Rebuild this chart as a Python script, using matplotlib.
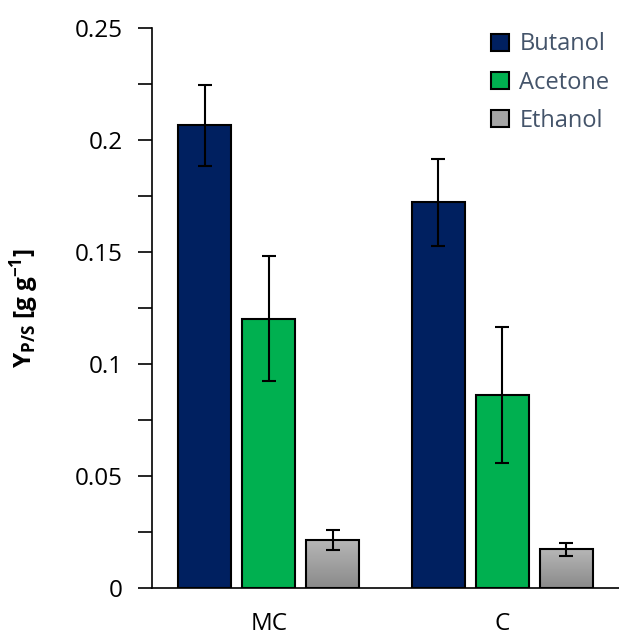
import matplotlib.pyplot as plt
import numpy as np
from matplotlib.colors import LinearSegmentedColormap
from matplotlib.patches import Patch

groups = ['MC', 'C']
solvents = ['Butanol', 'Acetone', 'Ethanol']
butanol = [0.2065, 0.1722]
acetone = [0.1202, 0.0862]
ethanol = [0.0214, 0.0172]
butanol_err = [0.018, 0.0193]
acetone_err = [0.0278, 0.0305]
ethanol_err = [0.0044, 0.0028]

values = [butanol, acetone, ethanol]
errors = [butanol_err, acetone_err, ethanol_err]
colors = ['#002060', '#00B050', '#A6A6A6']
text_col = '#44546A'

plt.rcParams['font.family'] = ['Open Sans', 'DejaVu Sans']
plt.rcParams['mathtext.fontset'] = 'custom'
plt.rcParams['mathtext.rm'] = 'Open Sans'
plt.rcParams['mathtext.bf'] = 'Open Sans:bold'
plt.rcParams['mathtext.it'] = 'Open Sans:italic'

fig = plt.figure(figsize=(6.19, 6.37), dpi=100)
ax = fig.add_axes([152/619, 49/637, 467/619, 560/637])

x = np.arange(len(groups))
step = 0.274
width = 0.226
grey_cmap = LinearSegmentedColormap.from_list('g', ['#8a8a8a', '#b6b6b6'])

for i, (vals, errs) in enumerate(zip(values, errors)):
    pos = x + (i - 1) * step
    bars = ax.bar(pos, vals, width, color=colors[i], edgecolor='black',
                  linewidth=1.5, zorder=2)
    ax.errorbar(pos, vals, yerr=errs, fmt='none', ecolor='black',
                elinewidth=1.5, capsize=5, capthick=1.5, zorder=4)
    if solvents[i] == 'Ethanol':
        # gradient fill like the excel style
        for b in bars:
            bx, by = b.get_x(), b.get_y()
            grad = np.linspace(0, 1, 100).reshape(-1, 1)
            im = ax.imshow(grad, cmap=grey_cmap, aspect='auto', origin='lower',
                           extent=[bx, bx + b.get_width(), by, by + b.get_height()],
                           zorder=2.5)
            im.set_clip_path(b)
            b.set_facecolor('none')
            b.set_zorder(3)

ax.set_xlim(-0.5, 1.5)
ax.set_ylim(0, 0.25)
ax.set_xticks(x)
ax.set_xticklabels(groups)
ax.set_yticks(np.arange(0, 0.2501, 0.05))
ax.set_yticklabels(['0', '0.05', '0.1', '0.15', '0.2', '0.25'])
ax.set_yticks(np.arange(0.025, 0.25, 0.05), minor=True)
ax.tick_params(axis='y', which='both', direction='out', length=10, width=1.2,
               labelsize=17.5, pad=11)
ax.tick_params(axis='x', length=0, labelsize=17.5, pad=17)

ax.spines['top'].set_visible(False)
ax.spines['right'].set_visible(False)
ax.spines['left'].set_linewidth(1.2)
ax.spines['bottom'].set_linewidth(1.2)

ax.set_ylabel(r'$\mathbf{Y_{P/S}}$ [g g$^{\mathbf{-1}}$]', fontsize=17.5,
              fontweight='bold', labelpad=24)

handles = [Patch(facecolor=colors[i], edgecolor='black', linewidth=1.5)
           for i in range(3)]
leg = ax.legend(handles, solvents, loc='upper right', bbox_to_anchor=(1.025, 1.03),
                frameon=False, fontsize=17, handlelength=0.75, handleheight=0.75,
                handletextpad=0.45, labelspacing=0.6)
for t in leg.get_texts():
    t.set_color(text_col)

fig.savefig('out.png', dpi=100)
